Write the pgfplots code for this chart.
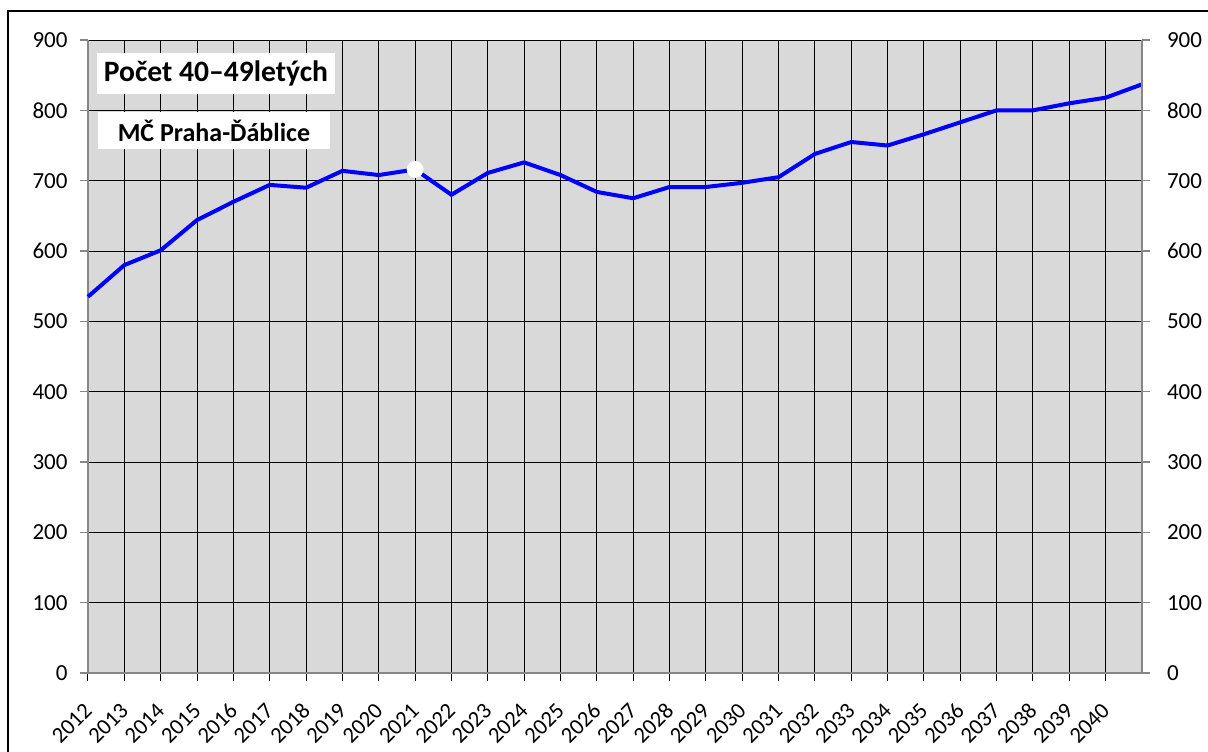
\documentclass[border=0pt]{standalone}
\usepackage{pgfplots}
\pgfplotsset{compat=1.18}
\usepackage{fontspec}
\setmainfont{Carlito}
\definecolor{bg}{HTML}{D9D9D9}
\definecolor{axgray}{HTML}{868686}

\pgfplotstableread{
year val
2012 535
2013 580
2014 601
2015 644
2016 670
2017 694
2018 690
2019 714
2020 708
2021 716
2022 680
2023 711
2024 726
2025 708
2026 684
2027 675
2028 691
2029 691
2030 697
2031 705
2032 738
2033 755
2034 750
2035 766
2036 783
2037 800
2038 800
2039 810
2040 818
2041 837
}\datatable

\begin{document}
\begin{tikzpicture}
\useasboundingbox (-44pt,-39pt) rectangle (560pt,336.5pt);
\draw[line width=0.8pt] (-40pt,-45pt) -- (-40pt,331pt) -- (570pt,331pt);
\begin{axis}[
 at={(0,0)}, anchor=south west,
 scale only axis, width=527pt, height=316.5pt,
 xmin=2012, xmax=2041, ymin=0, ymax=900,
 axis x line*=bottom, axis y line*=left,
 axis line style={-, axgray, line width=0.7pt},
 axis background/.style={fill=bg},
 xtick={2012,...,2040}, ytick={0,100,...,900},
 grid=major, major grid style={black, line width=0.5pt},
 tick align=outside, major tick length=4pt,
 x tick style={black, line width=0.5pt}, y tick style={axgray, line width=0.6pt},
 xticklabel style={xshift=2.5pt, yshift=-10.5pt, rotate=45, anchor=east, font=\fontsize{11.3}{13}\selectfont},
 yticklabel style={font=\fontsize{11.5}{13}\selectfont, xshift=-2.7pt},
 /pgf/number format/assume math mode=true,
 /pgf/number format/1000 sep={},
 clip=false,
]
\addplot[color=blue, line width=2pt, mark=none] table[x=year, y=val] {\datatable};
\addplot[only marks, mark=*, mark size=4pt, mark options={fill=white, draw=white}] coordinates {(2021,716)};
\node[fill=white, minimum width=119pt, minimum height=20.5pt, inner sep=0pt, font=\bfseries\fontsize{14.8}{16}\selectfont] at (rel axis cs:0.1214,0.947) {Počet 40–49letých};
\node[fill=white, minimum width=116pt, minimum height=18.5pt, inner sep=0pt, font=\bfseries\fontsize{13}{15}\selectfont] at (rel axis cs:0.1195,0.857) {MČ Praha-Ďáblice};
\end{axis}
\begin{axis}[
 at={(0,0)}, anchor=south west,
 scale only axis, width=527pt, height=316.5pt,
 xmin=2012, xmax=2041, ymin=0, ymax=900,
 axis y line*=right, axis x line=none,
 axis line style={-, axgray, line width=0.7pt},
 ytick={0,100,...,900},
 tick align=outside, major tick length=4pt,
 y tick style={axgray, line width=0.6pt},
 yticklabel style={font=\fontsize{11.5}{13}\selectfont, xshift=5pt},
 /pgf/number format/assume math mode=true,
 /pgf/number format/1000 sep={},
]
\addplot[draw=none] coordinates {(2012,0)};
\end{axis}
\end{tikzpicture}
\end{document}
